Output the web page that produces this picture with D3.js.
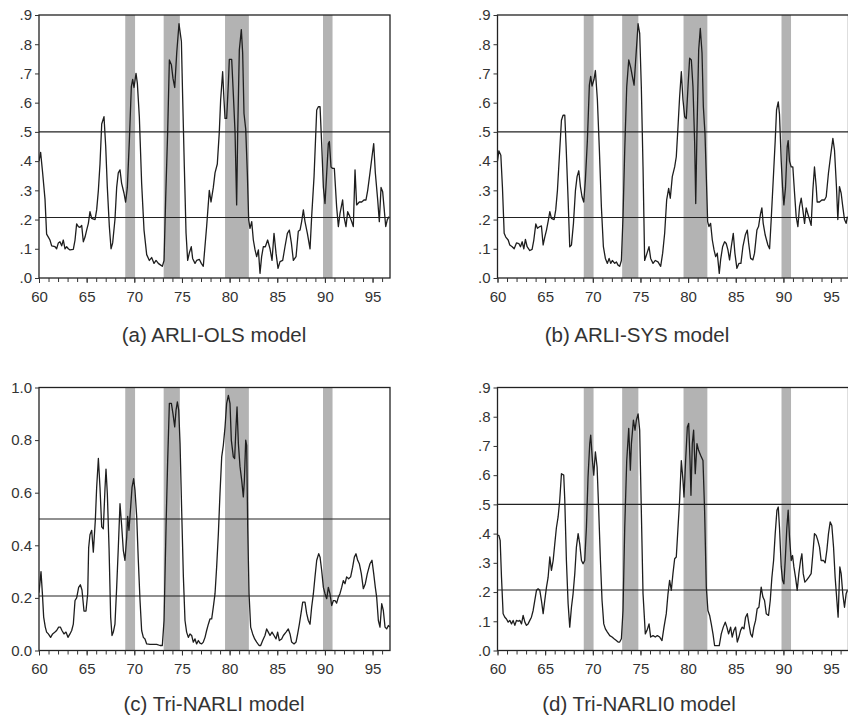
<!DOCTYPE html>
<html>
<head>
<meta charset="utf-8">
<script src="https://cdn.jsdelivr.net/npm/d3@7"></script>
<style>
  body { margin: 0; background: #fff; }
  text { font-family: "Liberation Sans", Arial, sans-serif; fill: #333; }
</style>
</head>
<body>
<svg width="848" height="724"></svg>
<script>
// recession probabilities, [year (19xx, decimal), probability]
let arliOLS = [
  [60.00,.40],[60.17,.43],[60.38,.36],[60.63,.27],[60.80,.15],[60.98,.14],[61.15,.13],[61.33,.11],[61.68,.107],[61.85,.10],
  [62.03,.12],[62.20,.124],[62.38,.11],[62.55,.13],[62.73,.10],[62.90,.107],[63.08,.10],[63.25,.096],[63.60,.098],[63.78,.13],
  [63.95,.185],[64.13,.176],[64.30,.173],[64.48,.18],[64.65,.124],[64.83,.14],[65.00,.164],[65.18,.187],[65.35,.227],[65.53,.204],
  [65.88,.20],[66.05,.233],[66.23,.30],[66.40,.39],[66.58,.527],[66.82,.552],[67.00,.45],[67.17,.31],[67.38,.176],[67.56,.10],
  [67.73,.12],[67.97,.20],[68.15,.31],[68.32,.36],[68.50,.37],[68.67,.324],[68.92,.29],[69.09,.26],[69.27,.31],[69.48,.47],
  [69.69,.655],[69.83,.68],[69.97,.652],[70.18,.70],[70.32,.666],[70.53,.55],[70.77,.324],[71.02,.164],[71.30,.08],[71.58,.06],
  [71.82,.07],[72.07,.05],[72.28,.06],[72.52,.05],[72.77,.044],[72.94,.04],[73.12,.06],[73.29,.27],[73.50,.50],[73.68,.746],
  [73.89,.73],[74.06,.683],[74.24,.652],[74.45,.77],[74.69,.87],[74.94,.81],[75.08,.61],[75.25,.38],[75.43,.153],[75.60,.06],
  [75.77,.085],[75.98,.107],[76.12,.067],[76.37,.05],[76.54,.06],[76.82,.064],[77.03,.05],[77.24,.04],[77.59,.176],[77.87,.30],
  [78.05,.26],[78.29,.31],[78.47,.36],[78.71,.39],[78.92,.50],[79.06,.61],[79.27,.706],[79.41,.61],[79.52,.546],[79.69,.546],
  [79.87,.666],[79.97,.748],[80.22,.748],[80.39,.63],[80.57,.50],[80.74,.25],[80.85,.50],[81.02,.78],[81.23,.85],[81.37,.77],
  [81.51,.563],[81.69,.51],[81.86,.36],[82.00,.20],[82.14,.17],[82.32,.193],[82.49,.13],[82.67,.096],[82.84,.073],[83.02,.096],
  [83.19,.016],[83.36,.073],[83.54,.107],[83.75,.107],[83.99,.13],[84.24,.10],[84.45,.06],[84.66,.153],[84.87,.085],[85.08,.033],
  [85.29,.056],[85.57,.06],[85.81,.107],[86.06,.153],[86.27,.164],[86.48,.12],[86.69,.06],[86.97,.073],[87.21,.16],[87.39,.164],
  [87.56,.193],[87.74,.233],[87.91,.193],[88.16,.153],[88.44,.10],[88.61,.21],[88.86,.347],[89.14,.575],[89.31,.586],[89.49,.586],
  [89.66,.46],[89.84,.31],[90.01,.255],[90.19,.36],[90.36,.46],[90.47,.467],[90.64,.38],[90.81,.375],[90.99,.375],[91.23,.244],
  [91.41,.176],[91.58,.22],[91.86,.267],[92.00,.21],[92.21,.176],[92.39,.227],[92.56,.215],[92.81,.193],[92.98,.176],[93.16,.37],
  [93.33,.25],[93.61,.26],[93.86,.26],[94.10,.267],[94.31,.267],[94.49,.30],[94.73,.36],[94.94,.415],[95.12,.46],[95.29,.36],
  [95.54,.267],[95.71,.193],[95.89,.31],[96.06,.295],[96.20,.244],[96.38,.176],[96.55,.20],[96.73,.21]
];

let arliSYS = [
  [60.00,.40],[60.14,.435],[60.35,.42],[60.52,.31],[60.70,.153],[60.87,.14],[61.12,.13],[61.29,.113],[61.54,.107],[61.75,.10],
  [61.99,.12],[62.24,.118],[62.41,.107],[62.59,.124],[62.76,.10],[62.93,.132],[63.11,.107],[63.39,.094],[63.63,.098],[63.81,.13],
  [64.02,.185],[64.19,.17],[64.44,.176],[64.61,.178],[64.79,.113],[64.96,.14],[65.14,.164],[65.31,.193],[65.49,.227],[65.66,.204],
  [65.94,.20],[66.11,.233],[66.29,.30],[66.53,.438],[66.71,.54],[66.88,.557],[67.06,.557],[67.20,.45],[67.41,.267],[67.58,.107],
  [67.76,.113],[67.97,.187],[68.18,.30],[68.35,.347],[68.53,.367],[68.70,.313],[68.87,.278],[69.05,.26],[69.22,.335],[69.43,.47],
  [69.64,.66],[69.78,.69],[69.92,.657],[70.13,.68],[70.27,.71],[70.48,.61],[70.69,.438],[70.90,.244],[71.11,.107],[71.32,.067],
  [71.53,.05],[71.71,.067],[71.88,.05],[72.05,.06],[72.30,.05],[72.47,.055],[72.65,.044],[72.82,.04],[73.00,.06],[73.17,.21],
  [73.35,.438],[73.56,.655],[73.77,.746],[73.98,.72],[74.15,.69],[74.33,.66],[74.50,.746],[74.75,.87],[74.92,.837],[75.09,.655],
  [75.27,.38],[75.44,.06],[75.69,.085],[75.90,.107],[76.07,.067],[76.32,.05],[76.56,.06],[76.84,.055],[77.12,.04],[77.33,.085],
  [77.54,.153],[77.75,.267],[77.96,.307],[78.13,.273],[78.34,.347],[78.59,.38],[78.76,.415],[78.94,.518],[79.11,.62],[79.29,.706],
  [79.46,.61],[79.64,.552],[79.81,.546],[79.99,.655],[80.16,.752],[80.34,.746],[80.51,.655],[80.69,.46],[80.80,.255],[80.93,.50],
  [81.11,.78],[81.28,.854],[81.46,.77],[81.60,.586],[81.77,.495],[81.91,.347],[82.05,.193],[82.19,.176],[82.36,.187],[82.54,.13],
  [82.72,.096],[82.89,.073],[83.06,.085],[83.27,.016],[83.41,.062],[83.62,.107],[83.83,.124],[84.00,.118],[84.18,.096],[84.35,.062],
  [84.53,.107],[84.74,.153],[84.91,.085],[85.12,.033],[85.33,.05],[85.54,.05],[85.75,.107],[86.00,.147],[86.21,.164],[86.35,.12],
  [86.56,.067],[86.80,.062],[86.97,.085],[87.22,.164],[87.39,.176],[87.60,.22],[87.74,.24],[87.88,.187],[88.09,.147],[88.37,.113],
  [88.55,.10],[88.72,.20],[88.97,.36],[89.14,.47],[89.28,.575],[89.46,.603],[89.59,.56],[89.77,.40],[89.91,.31],[90.05,.25],
  [90.22,.31],[90.40,.45],[90.50,.47],[90.64,.40],[90.82,.38],[90.99,.38],[91.17,.29],[91.34,.21],[91.52,.176],[91.69,.244],
  [91.87,.273],[92.04,.233],[92.22,.187],[92.39,.24],[92.56,.22],[92.74,.20],[92.91,.18],[93.09,.30],[93.26,.38],[93.44,.313],
  [93.54,.26],[93.79,.26],[94.03,.267],[94.31,.267],[94.49,.278],[94.73,.36],[94.94,.415],[95.19,.478],[95.36,.438],[95.57,.31],
  [95.71,.20],[95.88,.313],[96.06,.29],[96.23,.244],[96.41,.20],[96.58,.187],[96.72,.21]
];

let triNARLI = [
  [60.00,.22],[60.21,.30],[60.35,.22],[60.49,.127],[60.66,.089],[60.80,.07],[60.98,.063],[61.22,.05],[61.43,.063],[61.68,.07],
  [61.85,.076],[62.06,.089],[62.24,.089],[62.41,.076],[62.62,.063],[62.83,.07],[63.04,.05],[63.25,.063],[63.43,.076],[63.60,.10],
  [63.78,.19],[63.95,.20],[64.16,.24],[64.34,.25],[64.51,.23],[64.72,.15],[64.93,.15],[65.11,.216],[65.21,.39],[65.35,.44],
  [65.53,.457],[65.70,.374],[65.91,.495],[66.05,.62],[66.23,.73],[66.40,.62],[66.58,.47],[66.75,.463],[66.93,.62],[67.03,.69],
  [67.17,.596],[67.35,.39],[67.52,.127],[67.66,.057],[67.80,.07],[67.97,.10],[68.15,.24],[68.32,.39],[68.50,.558],[68.67,.476],
  [68.85,.38],[69.02,.343],[69.20,.43],[69.30,.51],[69.44,.457],[69.62,.546],[69.76,.62],[69.93,.653],[70.07,.61],[70.25,.51],
  [70.42,.343],[70.60,.19],[70.77,.076],[70.95,.05],[71.12,.044],[71.30,.025],[71.65,.023],[72.00,.023],[72.35,.023],[72.70,.019],
  [72.94,.019],[73.12,.114],[73.33,.47],[73.50,.72],[73.68,.94],[73.89,.94],[74.06,.90],[74.24,.85],[74.38,.914],[74.52,.945],
  [74.66,.914],[74.80,.787],[74.97,.533],[75.15,.28],[75.32,.114],[75.49,.07],[75.67,.05],[75.84,.063],[76.02,.057],[76.19,.032],
  [76.37,.044],[76.54,.025],[76.72,.038],[76.89,.028],[77.07,.025],[77.24,.032],[77.42,.05],[77.59,.076],[77.77,.10],[77.94,.12],
  [78.12,.12],[78.29,.165],[78.47,.216],[78.64,.317],[78.82,.444],[78.99,.596],[79.17,.736],[79.34,.78],[79.52,.85],[79.69,.94],
  [79.87,.97],[80.04,.94],[80.18,.80],[80.39,.736],[80.53,.73],[80.67,.85],[80.78,.926],[80.92,.787],[81.09,.70],[81.27,.647],
  [81.44,.584],[81.55,.647],[81.69,.80],[81.79,.78],[81.90,.47],[82.04,.216],[82.21,.089],[82.42,.063],[82.63,.044],[82.84,.032],
  [83.09,.019],[83.26,.019],[83.47,.038],[83.71,.057],[83.89,.082],[84.06,.07],[84.24,.057],[84.45,.07],[84.66,.057],[84.87,.044],
  [85.04,.07],[85.22,.038],[85.46,.044],[85.64,.057],[85.92,.07],[86.16,.082],[86.34,.063],[86.51,.032],[86.76,.025],[86.97,.032],
  [87.14,.063],[87.32,.10],[87.49,.14],[87.67,.184],[87.91,.184],[88.09,.14],[88.26,.114],[88.44,.10],[88.61,.165],[88.79,.216],
  [88.96,.28],[89.14,.343],[89.35,.368],[89.49,.355],[89.66,.305],[89.84,.24],[90.01,.216],[90.19,.197],[90.36,.24],[90.53,.216],
  [90.71,.171],[90.89,.19],[91.06,.19],[91.23,.18],[91.41,.203],[91.58,.216],[91.76,.24],[91.93,.266],[92.11,.254],[92.28,.28],
  [92.49,.273],[92.70,.28],[92.91,.317],[93.09,.355],[93.26,.368],[93.44,.343],[93.61,.33],[93.82,.292],[94.03,.235],[94.24,.254],
  [94.45,.292],[94.73,.33],[94.94,.343],[95.12,.292],[95.29,.24],[95.43,.203],[95.61,.114],[95.78,.089],[95.96,.178],[96.13,.152],
  [96.31,.089],[96.48,.082],[96.66,.095],[96.80,.089]
];

let triNARLI0 = [
  [60.00,.394],[60.14,.394],[60.28,.377],[60.42,.25],[60.59,.126],[60.77,.114],[60.94,.108],[61.12,.097],[61.29,.103],[61.47,.091],
  [61.64,.103],[61.82,.086],[61.99,.103],[62.17,.10],[62.34,.103],[62.52,.091],[62.69,.12],[62.87,.097],[63.04,.086],[63.21,.091],
  [63.39,.103],[63.56,.114],[63.74,.137],[63.91,.171],[64.09,.206],[64.26,.211],[64.44,.206],[64.61,.171],[64.79,.126],[64.96,.171],
  [65.14,.217],[65.31,.25],[65.49,.32],[65.66,.274],[65.84,.308],[66.01,.365],[66.18,.42],[66.36,.457],[66.53,.514],[66.71,.605],
  [66.95,.60],[67.06,.514],[67.23,.308],[67.41,.16],[67.58,.08],[67.76,.148],[67.93,.194],[68.11,.263],[68.28,.354],[68.46,.40],
  [68.63,.365],[68.81,.308],[68.98,.297],[69.15,.308],[69.33,.42],[69.50,.594],[69.68,.708],[69.78,.737],[69.96,.65],[70.10,.60],
  [70.27,.68],[70.45,.628],[70.62,.48],[70.80,.308],[70.97,.171],[71.15,.091],[71.32,.074],[71.53,.063],[71.78,.051],[72.02,.046],
  [72.23,.04],[72.47,.034],[72.65,.029],[72.82,.029],[73.00,.04],[73.17,.137],[73.35,.42],[73.56,.65],[73.77,.76],[73.94,.617],
  [74.05,.708],[74.26,.788],[74.43,.754],[74.57,.788],[74.75,.81],[74.92,.754],[75.09,.48],[75.27,.194],[75.51,.057],[75.69,.069],
  [75.90,.091],[76.07,.046],[76.32,.051],[76.56,.046],[76.77,.051],[77.02,.046],[77.26,.034],[77.47,.08],[77.71,.126],[77.89,.194],
  [78.06,.24],[78.24,.206],[78.41,.263],[78.59,.314],[78.76,.32],[78.94,.42],[79.11,.514],[79.29,.65],[79.46,.582],[79.57,.525],
  [79.74,.65],[79.92,.765],[80.06,.777],[80.20,.65],[80.30,.531],[80.44,.708],[80.58,.754],[80.75,.605],[80.93,.708],[81.10,.685],
  [81.31,.668],[81.56,.65],[81.73,.48],[81.91,.217],[82.08,.137],[82.26,.12],[82.43,.091],[82.61,.057],[82.78,.017],[83.06,.017],
  [83.27,.017],[83.48,.057],[83.69,.08],[83.90,.097],[84.07,.08],[84.25,.057],[84.46,.08],[84.63,.046],[84.81,.069],[84.98,.08],
  [85.16,.029],[85.33,.046],[85.51,.069],[85.68,.08],[85.86,.074],[86.03,.114],[86.21,.126],[86.38,.091],[86.56,.057],[86.73,.046],
  [86.90,.08],[87.08,.103],[87.25,.143],[87.43,.148],[87.67,.217],[87.85,.183],[88.02,.171],[88.20,.126],[88.44,.12],[88.62,.171],
  [88.79,.25],[88.97,.308],[89.14,.40],[89.32,.48],[89.46,.491],[89.59,.42],[89.77,.286],[89.91,.24],[90.05,.228],[90.19,.308],
  [90.36,.42],[90.50,.48],[90.64,.388],[90.82,.308],[90.96,.325],[91.10,.286],[91.27,.25],[91.45,.206],[91.62,.263],[91.80,.308],
  [91.94,.331],[92.08,.263],[92.25,.234],[92.42,.24],[92.67,.251],[92.91,.263],[93.09,.331],[93.26,.40],[93.44,.394],[93.61,.377],
  [93.79,.354],[93.96,.308],[94.21,.308],[94.38,.30],[94.56,.343],[94.73,.40],[94.91,.44],[95.08,.428],[95.26,.354],[95.43,.25],
  [95.61,.171],[95.74,.114],[95.92,.286],[96.06,.263],[96.23,.194],[96.41,.148],[96.58,.194],[96.72,.206]
];

let recessions  = [[69.05, 70.08], [73.08, 74.78], [79.52, 82.02], [89.8, 90.8]];
let refLines    = [0.5, 0.207];
let yearTicks   = d3.range(60, 97);
let yearLabels  = [60, 65, 70, 75, 80, 85, 90, 95];
let ticksShort  = [0, .1, .2, .3, .4, .5, .6, .7, .8, .9];
let ticksLong   = [0, .2, .4, .6, .8, 1.0];
let titles      = ["(a) ARLI-OLS model", "(b) ARLI-SYS model", "(c) Tri-NARLI model", "(d) Tri-NARLI0 model"];

let fmtShort = d => d3.format(".1f")(d).replace(/^0/, "");
let fmtLong  = d3.format(".1f");

let PW = 351, PH = 263;

let panels = [
  { data: arliOLS,   title: titles[0], left: 39,    top: 15,    yMax: .9, ticks: ticksShort, fmt: fmtShort, tx: 214, ty: 342 },
  { data: arliSYS,   title: titles[1], left: 497.5, top: 15,    yMax: .9, ticks: ticksShort, fmt: fmtShort, tx: 637, ty: 342 },
  { data: triNARLI,  title: titles[2], left: 39,    top: 387.5, yMax: 1,  ticks: ticksLong,  fmt: fmtLong,  tx: 214, ty: 711 },
  { data: triNARLI0, title: titles[3], left: 497.5, top: 387.5, yMax: .9, ticks: ticksShort, fmt: fmtShort, tx: 639, ty: 711 }
];

let svg = d3.select("svg");

panels.forEach(function (p, i) {
    let x = d3.scaleLinear().domain([60, 96.83]).range([0, PW]);
    let y = d3.scaleLinear().domain([0, p.yMax]).range([PH, 0]);

    let g = svg.append("g").attr("transform", "translate(" + p.left + "," + p.top + ")");

    g.append("clipPath").attr("id", "clip" + i)
     .append("rect").attr("width", PW).attr("height", PH);

    // shaded recessions
    g.selectAll("rect.rec")
     .data(recessions)
     .enter().append("rect")
     .attr("class", "rec")
     .attr("x", d => x(d[0]))
     .attr("width", d => x(d[1]) - x(d[0]))
     .attr("y", 0)
     .attr("height", PH)
     .attr("fill", "#b3b3b3");

    // threshold lines
    g.selectAll("line.ref")
     .data(refLines)
     .enter().append("line")
     .attr("x1", 0).attr("x2", PW)
     .attr("y1", d => y(d)).attr("y2", d => y(d))
     .attr("stroke", "#222").attr("stroke-width", 1.1);

    let line = d3.line().x(d => x(d[0])).y(d => y(d[1]));
    g.append("path")
     .datum(p.data)
     .attr("clip-path", "url(#clip" + i + ")")
     .attr("d", line)
     .attr("fill", "none")
     .attr("stroke", "#1e1e1e")
     .attr("stroke-width", 1.3)
     .attr("stroke-linejoin", "round");

    // frame
    g.append("rect")
     .attr("width", PW).attr("height", PH)
     .attr("fill", "none").attr("stroke", "#222").attr("stroke-width", 1.3);

    // x axis: yearly minor ticks, labels every 5 years
    let xa = g.append("g").attr("transform", "translate(0," + PH + ")")
              .call(d3.axisBottom(x).tickValues(yearTicks).tickSize(4).tickFormat(""));
    xa.select(".domain").remove();
    xa.selectAll("line").attr("stroke", "#333");

    let xl = g.append("g").attr("transform", "translate(0," + PH + ")")
              .call(d3.axisBottom(x).tickValues(yearLabels).tickSize(5).tickPadding(8).tickFormat(d => d));
    xl.select(".domain").remove();
    xl.selectAll("line").attr("stroke", "#333");
    xl.selectAll("text").attr("font-size", 15).attr("fill", "#333")
      .attr("font-family", "'Liberation Sans', Arial, sans-serif");

    let ya = g.append("g")
              .call(d3.axisLeft(y).tickValues(p.ticks).tickSize(4).tickPadding(3).tickFormat(p.fmt));
    ya.select(".domain").remove();
    ya.selectAll("line").attr("stroke", "#333");
    ya.selectAll("text").attr("font-size", 15).attr("fill", "#333")
      .attr("font-family", "'Liberation Sans', Arial, sans-serif");

    svg.append("text")
       .attr("x", p.tx).attr("y", p.ty)
       .attr("text-anchor", "middle")
       .attr("font-size", 20.5)
       .text(p.title);
});
</script>
</body>
</html>
